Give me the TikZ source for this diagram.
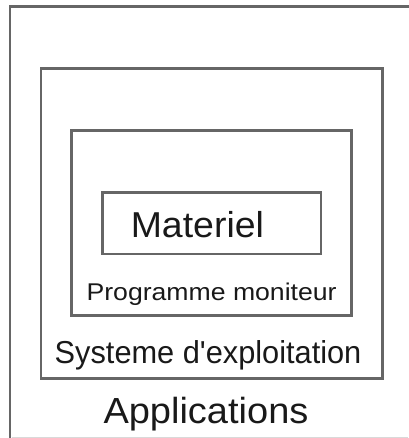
\documentclass[tikz,border=0pt]{standalone}
\usepackage{fontspec}
\setmainfont{Liberation Sans}[Ligatures=TeXOff]
\begin{document}
\begin{tikzpicture}[x=1pt,y=1pt,
  layer/.style={draw=black!60,line width=2.6pt,line join=miter},
  lbl/.style={inner sep=0pt,anchor=base west,text=black!90}]
\useasboundingbox (0,0) rectangle (408,438);
% outer (applications) frame, cut by the picture edges
\draw[layer] (412,431.5) -- (10,431.5) -- (10,-3);
\draw[black!15,line width=1pt] (11.5,0.6) -- (408,0.6);
% nested layers
\draw[layer] (41,369.2) rectangle (382.7,59.7);
\draw[layer] (71.7,307.3) rectangle (351.7,122.7);
\draw[layer] (102.7,245.5) rectangle (321,183.8);
% labels
\node[lbl,font=\fontsize{36}{40}\selectfont] (mat) at (130.6,200.7) {\scalebox{1.04}[1]{Materiel}};
\node[lbl,font=\fontsize{24.2}{28}\selectfont] (pm) at (86.4,137.3) {\scalebox{1.10}[1]{Programme moniteur}};
\node[lbl,font=\fontsize{31.7}{36}\selectfont] (os) at (54.5,74.7) {\scalebox{0.97}[1]{Systeme d'exploitation}};
\node[lbl,font=\fontsize{36.3}{40}\selectfont] (app) at (103.3,14.7) {\scalebox{1.047}[1]{Applications}};
\end{tikzpicture}
\end{document}
